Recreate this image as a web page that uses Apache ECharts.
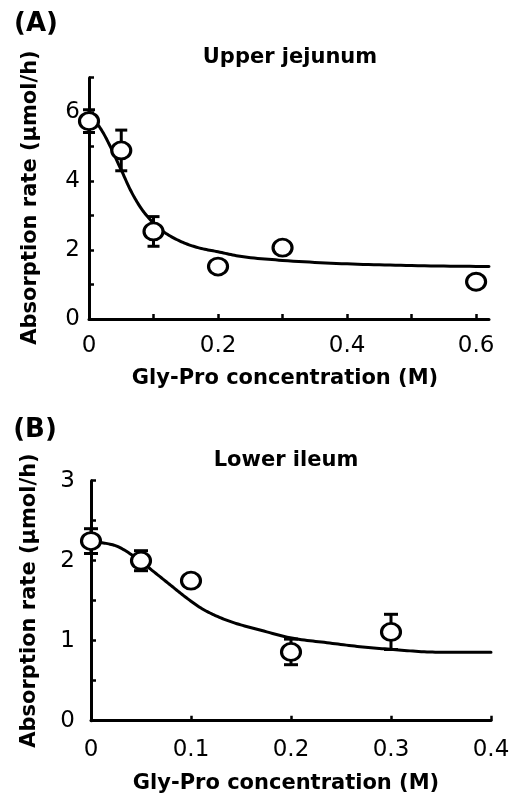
<!DOCTYPE html>
<html>
<head>
<meta charset="utf-8">
<script src="https://cdn.jsdelivr.net/npm/echarts@6/dist/echarts.min.js"></script>
<style>
  html, body { margin: 0; padding: 0; background: #fff; }
  #chart { width: 514px; height: 800px; }
</style>
</head>
<body>
<div id="chart"></div>
<script>
// Panel A: upper jejunum (mean ± SD)
const concA = [0, 0.05, 0.1, 0.2, 0.3, 0.6];
const rateA = [5.74, 4.89, 2.54, 1.52, 2.07, 1.08];
const errA  = [0.33, 0.59, 0.43, 0, 0, 0];
// fitted inhibition curve, panel A
const fitConcA = [0, 0.009, 0.022, 0.051, 0.064, 0.079, 0.095, 0.115, 0.141, 0.169, 0.2, 0.234, 0.3, 0.4, 0.5, 0.62];
const fitRateA = [5.85, 5.74, 5.40, 4.28, 3.75, 3.26, 2.88, 2.54, 2.26, 2.07, 1.95, 1.82, 1.70, 1.60, 1.55, 1.52];

// Panel B: lower ileum
const concB = [0, 0.05, 0.1, 0.2, 0.3];
const rateB = [2.245, 2.0, 1.75, 0.86, 1.11];
const errB  = [0.155, 0.125, 0, 0.16, 0.22];
const fitConcB = [0, 0.011, 0.027, 0.051, 0.061, 0.077, 0.094, 0.111, 0.127, 0.144, 0.167, 0.202, 0.236, 0.269, 0.302, 0.336, 0.369, 0.4];
const fitRateB = [2.24, 2.225, 2.175, 1.98, 1.88, 1.72, 1.55, 1.40, 1.30, 1.22, 1.14, 1.03, 0.975, 0.925, 0.89, 0.86, 0.855, 0.855];

// tick values
const xTicksA = [0, 0.1, 0.2, 0.3, 0.4, 0.5, 0.6];
const xLabelsA = [0, 0.2, 0.4, 0.6];
const yLabelsA = [0, 2, 4, 6];
const xTicksB = [0, 0.1, 0.2, 0.3, 0.4];
const yLabelsB = [0, 1, 2, 3];

const FONT = '"DejaVu Sans", "Liberation Sans", Arial, sans-serif';
const INK = '#000';

const zip = (xs, ys) => xs.map((x, i) => [x, ys[i]]);
const zip3 = (xs, ys, es) => xs.map((x, i) => [x, ys[i], es[i]]);

function valueAxis(grid, opt) {
  return Object.assign({
    type: 'value',
    gridIndex: grid,
    splitLine: { show: false },
    axisLine: { show: true, onZero: false, lineStyle: { color: INK, width: 3 } },
    axisTick: { show: true, inside: true, length: 5, lineStyle: { color: INK, width: 2.5 } },
    axisLabel: { color: INK, fontFamily: FONT, fontSize: 23 }
  }, opt);
}

function errorBars(xi, yi, data, capHalf) {
  return {
    type: 'custom',
    xAxisIndex: xi,
    yAxisIndex: yi,
    z: 1,
    data: data,
    renderItem: function (params, api) {
      const x = api.value(0), y = api.value(1), e = api.value(2);
      if (!e) return null;
      const hi = api.coord([x, y + e]);
      const lo = api.coord([x, y - e]);
      const st = { stroke: INK, lineWidth: 3 };
      return {
        type: 'group',
        children: [
          { type: 'line', shape: { x1: hi[0], y1: hi[1], x2: lo[0], y2: lo[1] }, style: st },
          { type: 'line', shape: { x1: hi[0] - capHalf, y1: hi[1], x2: hi[0] + capHalf, y2: hi[1] }, style: st },
          { type: 'line', shape: { x1: lo[0] - capHalf, y1: lo[1], x2: lo[0] + capHalf, y2: lo[1] }, style: st }
        ]
      };
    }
  };
}

const RING = 'path://M0,10A10,10,0,1,1,20,10A10,10,0,1,1,0,10Z';

function points(xi, yi, data) {
  return {
    type: 'scatter',
    xAxisIndex: xi,
    yAxisIndex: yi,
    z: 3,
    symbol: RING,
    symbolSize: [19, 17],
    itemStyle: { color: '#fff', borderColor: INK, borderWidth: 3, opacity: 1 },
    data: data
  };
}

// Monotone cubic (Fritsch–Carlson) path through the fitted points, in pixel space
function monotonePath(pts, steps) {
  const n = pts.length;
  const d = [], m = new Array(n);
  for (let k = 0; k < n - 1; k++) {
    d.push((pts[k + 1][1] - pts[k][1]) / (pts[k + 1][0] - pts[k][0]));
  }
  m[0] = d[0];
  m[n - 1] = d[n - 2];
  for (let k = 1; k < n - 1; k++) {
    m[k] = d[k - 1] * d[k] <= 0 ? 0 : (d[k - 1] + d[k]) / 2;
  }
  for (let k = 0; k < n - 1; k++) {
    if (d[k] === 0) { m[k] = 0; m[k + 1] = 0; continue; }
    const a = m[k] / d[k], b = m[k + 1] / d[k], s = a * a + b * b;
    if (s > 9) {
      const t = 3 / Math.sqrt(s);
      m[k] = t * a * d[k];
      m[k + 1] = t * b * d[k];
    }
  }
  const out = [pts[0]];
  for (let k = 0; k < n - 1; k++) {
    const x0 = pts[k][0], x1 = pts[k + 1][0], y0 = pts[k][1], y1 = pts[k + 1][1];
    const h = x1 - x0;
    for (let i = 1; i <= steps; i++) {
      const t = i / steps, t2 = t * t, t3 = t2 * t;
      const h00 = 2 * t3 - 3 * t2 + 1, h10 = t3 - 2 * t2 + t;
      const h01 = -2 * t3 + 3 * t2, h11 = t3 - t2;
      out.push([x0 + t * h, h00 * y0 + h10 * h * m[k] + h01 * y1 + h11 * h * m[k + 1]]);
    }
  }
  return out;
}

function fitCurve(xi, yi, xs, ys) {
  return {
    type: 'custom',
    xAxisIndex: xi,
    yAxisIndex: yi,
    z: 2,
    data: [[xs[0], ys[0]]],
    renderItem: function (params, api) {
      const px = xs.map((x, i) => api.coord([x, ys[i]]));
      return {
        type: 'polyline',
        shape: { points: monotonePath(px, 12) },
        style: { stroke: INK, lineWidth: 3, fill: null, lineJoin: 'round', lineCap: 'round' }
      };
    }
  };
}

function label(text, x, y, size, rot) {
  return {
    type: 'text',
    x: x, y: y,
    rotation: rot || 0,
    style: {
      text: text,
      font: 'bold ' + size + 'px ' + FONT,
      fill: INK,
      align: 'center',
      verticalAlign: 'middle'
    }
  };
}

const chart = echarts.init(document.getElementById('chart'));
chart.setOption({
  animation: false,
  backgroundColor: '#fff',
  grid: [
    { left: 89, top: 77.7, width: 400, height: 241.3 },
    { left: 91, top: 480.7, width: 400, height: 240 }
  ],
  xAxis: [
    valueAxis(0, {
      min: 0, max: 0.62, interval: 0.1,
      axisTick: { show: true, inside: true, length: 5, customValues: xTicksA, lineStyle: { color: INK, width: 2.5 } },
      axisLabel: { color: INK, fontFamily: FONT, fontSize: 23, margin: 16, customValues: xLabelsA }
    }),
    valueAxis(1, {
      min: 0, max: 0.4, interval: 0.1,
      axisTick: { show: true, inside: true, length: 5, customValues: xTicksB, lineStyle: { color: INK, width: 2.5 } },
      axisLabel: { color: INK, fontFamily: FONT, fontSize: 23, margin: 18, customValues: xTicksB }
    })
  ],
  yAxis: [
    valueAxis(0, {
      min: 0, max: 7, interval: 1,
      axisLabel: { color: INK, fontFamily: FONT, fontSize: 23, margin: 9, customValues: yLabelsA }
    }),
    valueAxis(1, {
      min: 0, max: 3, interval: 0.5,
      axisLabel: { color: INK, fontFamily: FONT, fontSize: 23, margin: 16, customValues: yLabelsB }
    })
  ],
  series: [
    errorBars(0, 0, zip3(concA, rateA, errA), 6),
    fitCurve(0, 0, fitConcA, fitRateA),
    points(0, 0, zip(concA, rateA)),
    errorBars(1, 1, zip3(concB, rateB, errB), 7),
    fitCurve(1, 1, fitConcB, fitRateB),
    points(1, 1, zip(concB, rateB))
  ],
  graphic: [
    label('(A)', 36, 24, 26),
    label('Upper jejunum', 290, 58, 21),
    label('Gly-Pro concentration (M)', 285, 379, 21),
    label('Absorption rate (\u00b5mol/h)', 31, 197.5, 21, Math.PI / 2),
    label('(B)', 35, 430, 26),
    label('Lower ileum', 286, 461, 21),
    label('Gly-Pro concentration (M)', 286, 784, 21),
    label('Absorption rate (\u00b5mol/h)', 30, 600.5, 21, Math.PI / 2)
  ]
});
</script>
</body>
</html>
